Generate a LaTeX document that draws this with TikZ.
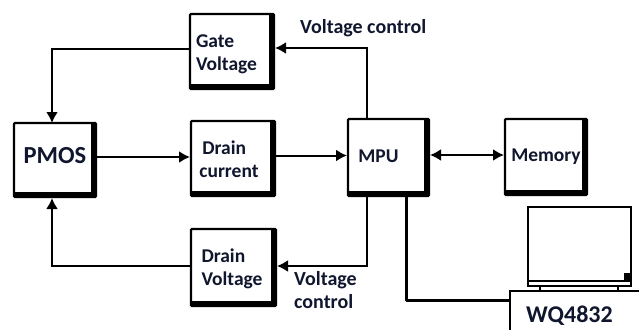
\documentclass[tikz,border=0pt]{standalone}
\usepackage{fontspec}
\setmainfont{Carlito}
\usetikzlibrary{arrows.meta}
\definecolor{inkblue}{RGB}{15,22,45}
\tikzset{
  x=1pt,y=-1pt,
  blockbox/.style={draw=black,line width=2.2pt,fill=white,inner sep=0pt,outer sep=0pt,anchor=north west,
    font=\bfseries\fontsize{19.5}{23}\selectfont,text=inkblue,align=left,rounded corners=1pt,
    path picture={\draw[line width=10pt,black] (path picture bounding box.north east)--(path picture bounding box.south east)--(path picture bounding box.south west);}},
  head/.tip={Latex[length=11pt,width=12pt]},
  conn/.style={line width=2pt,draw=black,-head},
  lbl/.style={font=\bfseries\fontsize{20}{23}\selectfont,text=inkblue,align=left,inner sep=0pt}
}
\begin{document}
\begin{tikzpicture}
\useasboundingbox (0,0) rectangle (639,329);
\node[blockbox,minimum width=84pt,minimum height=75pt] (gate) at (190,14) {\rule{0pt}{19pt}Gate\\Voltage\hspace*{11pt}};
\node[blockbox,minimum width=82pt,minimum height=74pt] (pmos) at (14,123) {\raisebox{10pt}{\fontsize{24.5}{28}\selectfont PMOS}};
\node[blockbox,minimum width=84pt,minimum height=75pt] (drain) at (191,121) {\rule{0pt}{15pt}\hspace*{3pt}Drain\\current\hspace*{8pt}};
\node[blockbox,minimum width=85pt,minimum height=77pt] (dv) at (191,229) {\rule{0pt}{17pt}Drain\\Voltage\hspace*{3pt}};
\node[blockbox,minimum width=81pt,minimum height=77pt] (mpu) at (348,119) {\raisebox{2pt}{MPU}\hspace*{20pt}};
\node[blockbox,minimum width=82pt,minimum height=76pt] (mem) at (505,119) {Memory};
\coordinate (mputop) at (367,119);
\coordinate (mpubot) at (367,196);
\coordinate (mpulink) at (406,196);
\coordinate (pmostop) at (52,123);
\coordinate (pmosbot) at (52,198);
\coordinate (gatein) at (275,48);
\coordinate (gateout) at (190,49);
\coordinate (dvin) at (277,266);
\coordinate (dvout) at (191,266);
\coordinate (pmosout) at (97,157);
\coordinate (drainin) at (190,157);
\coordinate (drainout) at (276,155.5);
\coordinate (mpuin) at (347,155.5);
\coordinate (mpuout) at (430,155);
\coordinate (memin) at (504,155);
\draw[conn] (gateout) -| (pmostop);
\draw[conn] (dvout) -| (pmosbot);
\draw[conn] (pmosout) -- (drainin);
\draw[conn] (drainout) -- (mpuin);
\draw[conn] (mputop) |- (gatein);
\draw[conn] (mpubot) |- (dvin);
\draw[conn,head-head] (mpuout) -- (memin);
% laptop
\node[draw=black,line width=2.4pt,fill=white,minimum width=103pt,minimum height=79pt,anchor=north west,inner sep=0pt,outer sep=0pt] (screen) at (528,207) {};
\coordinate (bandl) at (528,281);
\coordinate (bandr) at (631,281);
\draw[line width=1.6pt,black] (bandl) -- (bandr);
\fill[black] (624,273) rectangle (630,281);
\node[draw=black,line width=1.4pt,fill=white,minimum width=78pt,minimum height=5pt,anchor=north west,inner sep=0pt,outer sep=0pt] (hinge) at (540,286) {};
\node[draw=black,line width=1.6pt,fill=white,minimum width=140pt,minimum height=45pt,anchor=north west,inner sep=0pt,outer sep=0pt] (pc) at (510,291) {};
\node[lbl,font=\bfseries\fontsize{24}{28}\selectfont,anchor=west] (pclabel) at (526,316) {WQ4832};
\coordinate (pcin) at (510,300);
\draw[line width=3pt,black,line join=round] (mpulink) |- (pcin);
\node[lbl,anchor=west] (vc1) at (300,28) {Voltage control};
\node[lbl,anchor=north west] (vc2) at (294,271) {Voltage\\control};
\end{tikzpicture}
\end{document}
